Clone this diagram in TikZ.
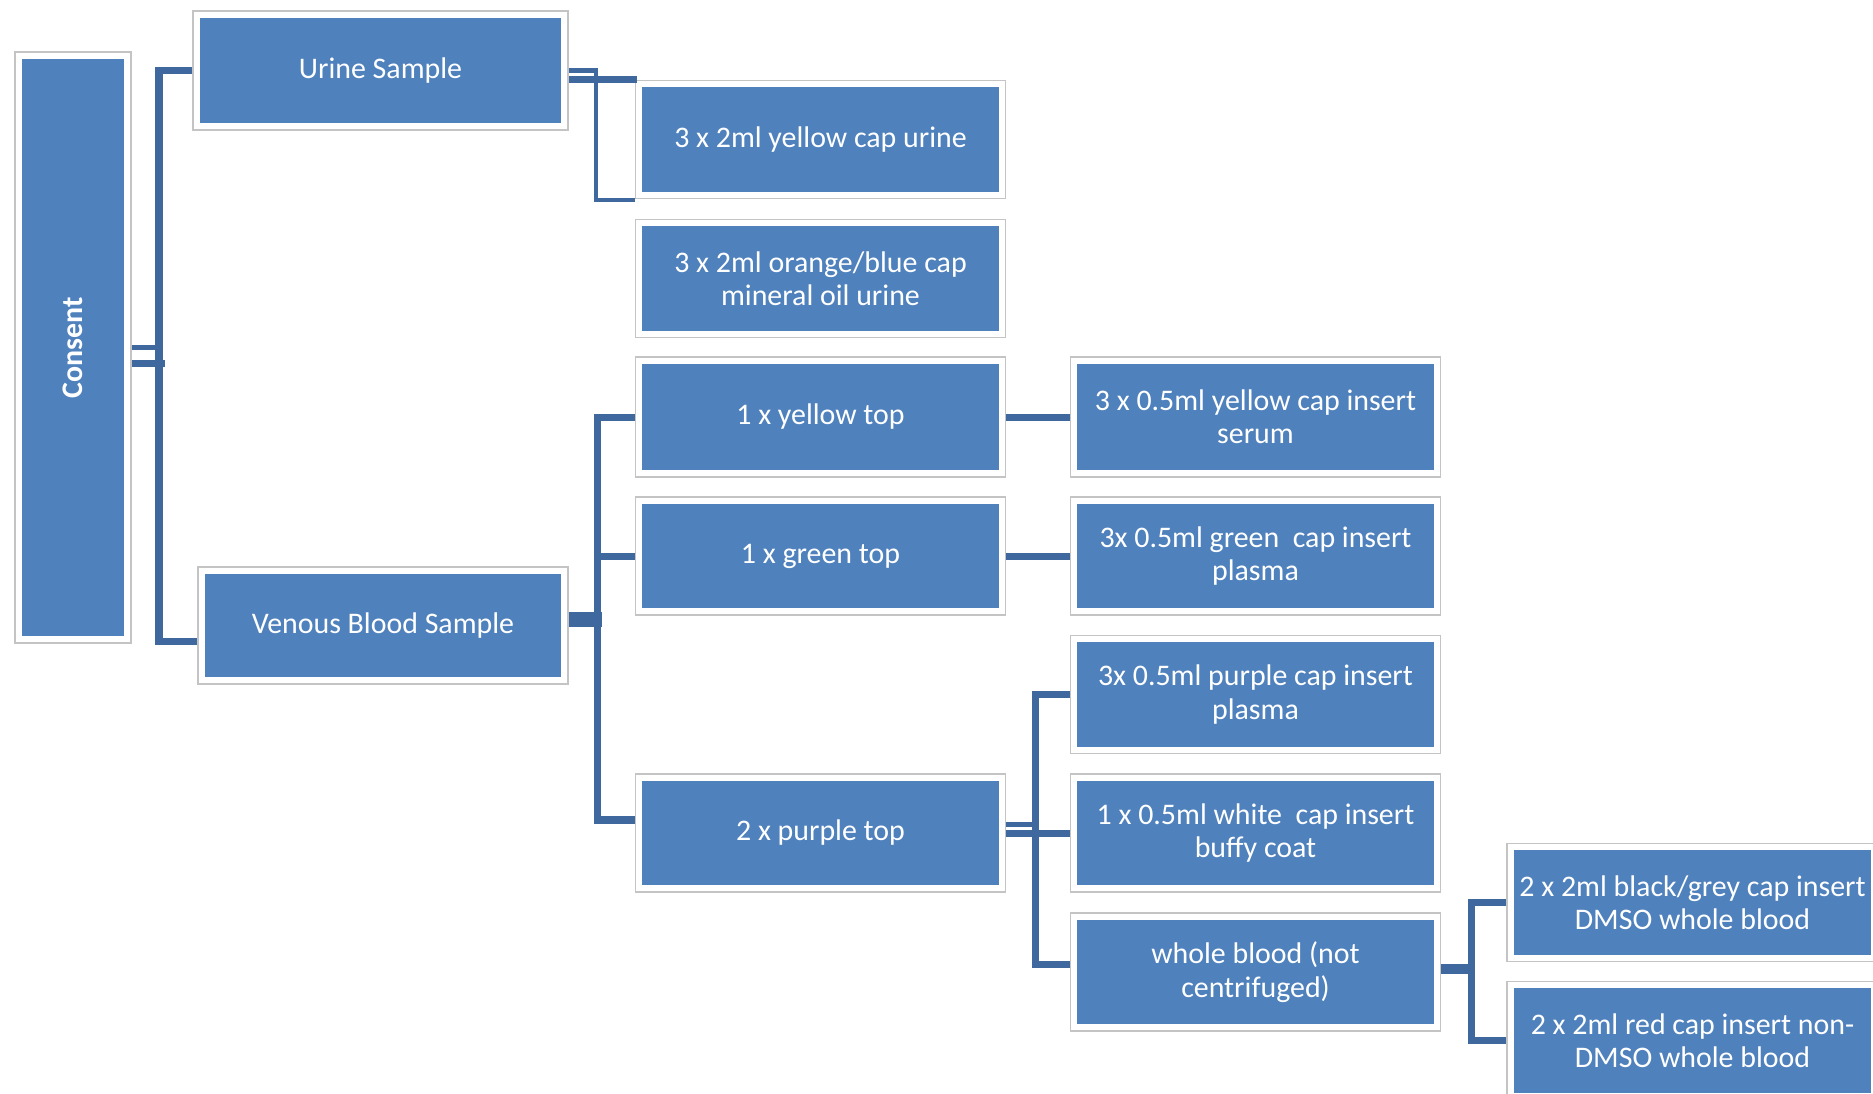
\documentclass[tikz,border=0pt]{standalone}
\usepackage{fontspec}
\setmainfont{Carlito}
\usepackage{graphicx}
\definecolor{boxblue}{RGB}{79,129,189}
\definecolor{linkblue}{RGB}{62,104,158}
\definecolor{framegrey}{RGB}{196,196,196}
\tikzset{
  sample/.style={rectangle, draw=framegrey, line width=0.45pt, fill=white,
    minimum width=3.70cm, minimum height=1.18cm, inner sep=0pt, text=white,
    font=\fontsize{8.5}{9.5}\selectfont, align=center,
    path picture={\fill[boxblue] ([shift={(0.07cm,0.07cm)}]path picture bounding box.south west)
      rectangle ([shift={(-0.07cm,-0.07cm)}]path picture bounding box.north east);}},
  link/.style={draw=linkblue, line width=2pt},
}
\begin{document}
\begin{tikzpicture}[x=0.01cm, y=-0.01cm]
\useasboundingbox (0,0) rectangle (1873,1093);
\clip (0,0) rectangle (1873,1093);

\node[sample, minimum width=1.16cm, minimum height=5.91cm, font=\fontsize{8.5}{9.5}\selectfont\bfseries] (consent) at (73,347.5) {\rotatebox{90}{Consent}};

\node[sample, minimum width=3.75cm, minimum height=1.19cm] (urine) at (380.5,70.5) {Urine Sample};
\node[sample, minimum height=1.17cm] (venous) at (383,625.5) {Venous Blood Sample};

\node[sample] (urineyellow) at (820.5,139.5) {3 x 2ml yellow cap urine};
\node[sample] (urineorange) at (820.5,278.5) {3 x 2ml orange/blue cap\\mineral oil urine};
\node[sample, minimum height=1.20cm] (yellowtop) at (820.5,417) {1 x yellow top};
\node[sample] (greentop) at (820.5,556) {1 x green top};
\node[sample] (purpletop) at (820.5,833) {2 x purple top};

\node[sample, minimum height=1.20cm] (serum) at (1255.5,417) {3 x 0.5ml yellow cap insert\\serum};
\node[sample] (greenplasma) at (1255.5,556) {3x 0.5ml green\ \ cap insert\\plasma};
\node[sample] (purpleplasma) at (1255.5,694.5) {3x 0.5ml purple cap insert\\plasma};
\node[sample] (buffycoat) at (1255.5,833) {1 x 0.5ml white\ \ cap insert\\buffy coat};
\node[sample] (wholeblood) at (1255.5,972) {whole blood (not\\centrifuged)};

\node[sample, minimum width=3.71cm] (dmso) at (1692.5,902.5) {2 x 2ml black/grey cap insert\\DMSO whole blood};
\node[sample, minimum width=3.71cm] (nondmso) at (1692.5,1040.5) {2 x 2ml red cap insert non-\\DMSO whole blood};

\draw[link, line width=1.2pt] (consent.east) -- ++(29,0);
\draw[link, line width=1.8pt] ([yshift=-0.16cm]consent.east) -- ++(33,0);
\draw[link, line width=2.2pt] (urine.west) -- ++(-33,0) |- ([yshift=-0.16cm]venous.west);

\draw[link, line width=1.2pt] (urine.east) -- ++(27,0) |- ([yshift=-0.605cm]urineyellow.west);
\draw[link, line width=2.2pt] ([yshift=-0.09cm]urine.east) -- ++(68,0);

\draw[link, line width=4.2pt] ([yshift=0.06cm]venous.east) -- ++(33,0);
\draw[link] (yellowtop.west) -- ++(-37,0) |- ([yshift=0.13cm]purpletop.west);
\draw[link] (greentop.west) -- ++(-37,0);

\draw[link] (yellowtop.east) -- (serum.west);
\draw[link] (greentop.east) -- (greenplasma.west);

\draw[link, line width=1.5pt] ([yshift=0.085cm]purpletop.east) -- ++(31,0);
\draw[link] (purpletop.east) -- (buffycoat.west);
\draw[link] (purpleplasma.west) -- ++(-34.5,0) |- ([yshift=0.08cm]wholeblood.west);

\draw[link, line width=2.8pt] ([yshift=0.03cm]wholeblood.east) -- ++(33,0);
\draw[link] (dmso.west) -- ++(-34.5,0) |- (nondmso.west);

\end{tikzpicture}
\end{document}
